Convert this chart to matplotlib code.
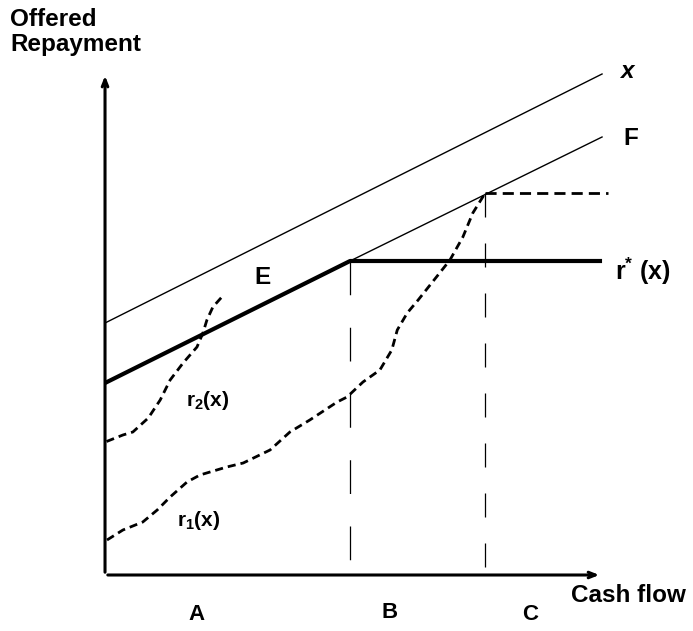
import numpy as np
import matplotlib.pyplot as plt

plt.rcParams['font.family'] = ['Liberation Sans', 'DejaVu Sans']
plt.rcParams['mathtext.fontset'] = 'custom'
plt.rcParams['mathtext.rm'] = 'Liberation Sans:bold'
plt.rcParams['mathtext.bf'] = 'Liberation Sans:bold'
plt.rcParams['mathtext.it'] = 'Liberation Sans:bold:italic'

# schematic coordinates (cash flow on x, offered repayment on y)
x_line_x = [0.0, 10.0]
x_line_y = [5.04, 10.02]

rstar_x = [0.0, 4.93, 10.0]
rstar_y = [3.84, 6.28, 6.28]

F_x = [4.93, 10.0]
F_y = [6.28, 8.76]

# boundaries between regions A, B and C
xB = 4.92
xC = 7.65
cap_y = 7.64
cap_end = 10.12

r2_x = [0.03, 0.36, 0.56, 0.87, 1.11, 1.31, 1.57, 1.85, 1.97, 2.05, 2.17, 2.35]
r2_y = [2.67, 2.80, 2.86, 3.14, 3.50, 3.90, 4.24, 4.56, 4.84, 5.10, 5.36, 5.56]

r1_x = [0.04, 0.36, 0.76, 1.05, 1.31, 1.65, 1.91, 2.45, 2.78, 3.32, 3.72, 4.12,
        4.67, 4.87, 5.19, 5.53, 5.77, 5.88, 6.08, 6.30, 6.62, 6.94, 7.20, 7.40, 7.65]
r1_y = [0.70, 0.90, 1.06, 1.30, 1.56, 1.86, 2.00, 2.16, 2.24, 2.50, 2.86, 3.10,
        3.46, 3.56, 3.86, 4.10, 4.50, 4.90, 5.24, 5.50, 5.90, 6.30, 6.76, 7.24, 7.64]

fig = plt.figure(figsize=(6.93, 6.31), dpi=100)
ax = fig.add_axes([0, 0, 1, 1])
ax.set_xlim(-2.113, 11.83)
ax.set_ylim(-1.12, 11.5)
ax.axis('off')

# axes with arrows
ax.annotate('', xy=(0, 10.04), xytext=(0, 0),
            arrowprops=dict(arrowstyle='->,head_length=0.5,head_width=0.2', lw=2.2, color='black'))
ax.annotate('', xy=(10.0, 0), xytext=(0, 0),
            arrowprops=dict(arrowstyle='->,head_length=0.5,head_width=0.2', lw=2.2, color='black'))

ax.plot(x_line_x, x_line_y, color='black', lw=1)
ax.plot(F_x, F_y, color='black', lw=1)
ax.plot(rstar_x, rstar_y, color='black', lw=3, solid_capstyle='butt')

ax.plot([xB, xB], [6.28, 0.26], color='black', lw=0.9, linestyle=(0, (27, 26)))
ax.plot([xC, xC], [cap_y, 0.16], color='black', lw=0.9, linestyle=(0, (19.2, 20.8)))
ax.plot([xC, cap_end], [cap_y, cap_y], color='black', lw=2, linestyle=(0, (4, 2.2)))

ax.plot(r2_x, r2_y, color='black', lw=2, linestyle=(0, (2.9, 1.8)))
ax.plot(r1_x, r1_y, color='black', lw=2, linestyle=(0, (2.9, 1.8)))

bold = dict(fontweight='bold', color='black')
ax.text(-1.91, 11.34, 'Offered\nRepayment', fontsize=17.5, ha='left', va='top',
        linespacing=1.12, **bold)
ax.text(10.54, -0.4, 'Cash flow', fontsize=17.5, ha='center', va='center', **bold)
ax.text(10.36, 10.06, 'x', fontsize=17.5, style='italic', ha='left', va='center', **bold)
ax.text(10.42, 8.72, 'F', fontsize=17.5, ha='left', va='center', **bold)
ax.text(10.26, 6.08, r'r$^{*}$ (x)', fontsize=18, ha='left', va='center', **bold)
ax.text(3.16, 5.96, 'E', fontsize=17.5, ha='center', va='center', **bold)
ax.text(2.07, 3.5, r'r$_{2}$(x)', fontsize=15, ha='center', va='center', **bold)
ax.text(1.89, 1.1, r'r$_{1}$(x)', fontsize=15, ha='center', va='center', **bold)
ax.text(1.85, -0.8, 'A', fontsize=16, ha='center', va='center', **bold)
ax.text(5.73, -0.74, 'B', fontsize=16, ha='center', va='center', **bold)
ax.text(8.55, -0.8, 'C', fontsize=16, ha='center', va='center', **bold)

plt.savefig('out.png', dpi=100)
